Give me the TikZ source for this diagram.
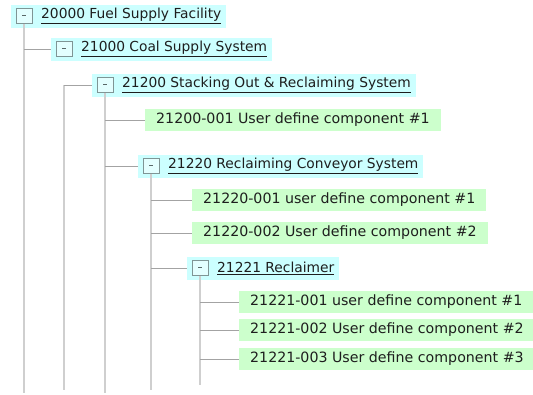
\documentclass[tikz,border=0pt]{standalone}
\usepackage{fontspec}
\setmainfont{DejaVu Sans}
\usepackage{tikz}
\usetikzlibrary{positioning, calc}
\definecolor{grpcyan}{HTML}{CCFFFF}
\definecolor{itemgreen}{HTML}{CCFFCC}
\definecolor{treeline}{HTML}{CFCFCF}
\definecolor{branchline}{HTML}{A3A3A3}
\definecolor{inktext}{HTML}{1E1E1E}
\definecolor{togglebd}{HTML}{7F9595}
\tikzset{
  % Group rows (can be collapsed)
  group/.style={
    rectangle, anchor=west, fill=grpcyan, text=inktext,
    font=\fontsize{13.8}{16}\selectfont, minimum height=23pt,
    inner xsep=5pt, inner ysep=0pt,
  },
  % The small [-] box of a group
  toggle/.style={
    rectangle, anchor=west, draw=togglebd, fill=grpcyan!55!white,
    line width=0.8pt, minimum width=16pt, minimum height=15pt, inner sep=0pt,
    text=togglebd!70!black,
  },
  % Leaf components
  item/.style={
    rectangle, anchor=west, fill=itemgreen, text=inktext,
    font=\fontsize{14.2}{16}\selectfont, minimum height=22pt,
    inner xsep=11pt, inner ysep=0pt,
  },
  % Tree lines
  trunk/.style={draw=treeline, line width=2pt},
  branch/.style={draw=branchline, line width=0.9pt},
}
\newcommand{\grouptext}[1]{\hspace*{25pt}\underline{#1}}
\newcommand{\minusmark}{\rule[2.2pt]{4pt}{0.7pt}}

\begin{document}
\begin{tikzpicture}[x=1pt, y=-1pt]
  \useasboundingbox[fill=white] (0,0) rectangle (533,394);

  % Level 1 and 2
  \node[group] (n1) at (11,16) {\grouptext{20000 Fuel Supply Facility}};
  \node[toggle] (t1) at ([xshift=5pt]n1.west) {\minusmark};
  \node[group] (n2) at (51,49) {\grouptext{21000 Coal Supply System}};
  \node[toggle] (t2) at ([xshift=5pt]n2.west) {\minusmark};

  % Stacking out / reclaiming
  \node[group] (n3) at (92,85) {\grouptext{21200 Stacking Out \& Reclaiming System}};
  \node[toggle] (t3) at ([xshift=5pt]n3.west) {\minusmark};
  \node[item] (c4) at (145,120) {21200-001 User define component \#1};

  % Reclaiming conveyor
  \node[group] (n5) at (138,166) {\grouptext{21220 Reclaiming Conveyor System}};
  \node[toggle] (t5) at ([xshift=5pt]n5.west) {\minusmark};
  \node[item] (c6) at (192,200) {21220-001 user define component \#1};
  \node[item] (c7) at (192,233) {21220-002 User define component \#2};

  % Reclaimer
  \node[group] (n8) at (187,268) {\grouptext{21221 Reclaimer}};
  \node[toggle] (t8) at ([xshift=5pt]n8.west) {\minusmark};
  \node[item] (c9) at (239,302) {21221-001 user define component \#1};
  \node[item] (c10) at (239,330) {21221-002 User define component \#2};
  \node[item] (c11) at (239,359) {21221-003 User define component \#3};

  % Ends of the vertical lines
  \coordinate (low) at (0,393);
  \coordinate (mid) at (0,390);
  \coordinate (short) at (0,385);

  % Vertical lines
  \draw[trunk] (t1.south) -- (t1 |- low);
  \draw[trunk] (t2 |- n3.west) -- (t2 |- mid);
  \draw[trunk] (t3.south) -- (t3 |- low);
  \draw[trunk] (t5.south) -- (t5 |- mid);
  \draw[trunk] (t8.south) -- (t8 |- short);

  % Branches
  \draw[branch] (t1 |- n2.west) -- (n2.west);
  \draw[branch] (t2 |- n3.west) -- (n3.west);
  \draw[branch] (t3 |- c4.west) -- (c4.west);
  \draw[branch] (t3 |- n5.west) -- (n5.west);
  \draw[branch] (t5 |- c6.west) -- (c6.west);
  \draw[branch] (t5 |- c7.west) -- (c7.west);
  \draw[branch] (t5 |- n8.west) -- (n8.west);
  \draw[branch] (t8 |- c9.west) -- (c9.west);
  \draw[branch] (t8 |- c10.west) -- (c10.west);
  \draw[branch] (t8 |- c11.west) -- (c11.west);
\end{tikzpicture}
\end{document}
